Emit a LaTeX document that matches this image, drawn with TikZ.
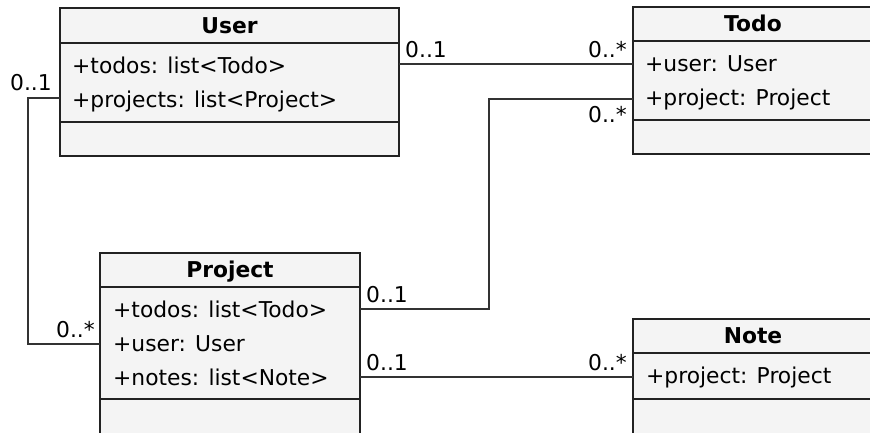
\documentclass[tikz,border=0pt]{standalone}
\usepackage{fontspec}
\setmainfont{DejaVu Sans}
\definecolor{boxfill}{HTML}{F4F4F4}
\definecolor{boxline}{HTML}{222222}
\definecolor{wire}{HTML}{333333}
\begin{document}
\begin{tikzpicture}[x=1pt,y=-1pt,
  every node/.style={font=\fontsize{21.8}{26}\selectfont},
  classbox/.style={draw=boxline, fill=boxfill, line width=1.7pt,
    inner sep=0pt, outer sep=0pt, anchor=north west},
  sepline/.style={draw=boxline, line width=1.7pt},
  classname/.style={font=\fontsize{21.8}{26}\selectfont\bfseries, anchor=base, inner sep=0pt},
  attr/.style={anchor=base west, inner sep=0pt},
  assoc/.style={draw=wire, line width=1.6pt},
  multl/.style={anchor=base west, inner sep=0pt},
  multr/.style={anchor=base east, inner sep=0pt}]
\clip (0,0) rectangle (870,432);

% ---------- User ----------
\node[classbox, minimum width=339pt, minimum height=148pt] (user) at (60,8) {};
\draw[sepline] (60,43) -- (399,43);
\draw[sepline] (60,122) -- (399,122);
\node[classname] (userT) at (229.5,33) {User};
\node[attr] (userA1) at (72,73) {+todos: list<Todo>};
\node[attr] (userA2) at (72,107) {+projects: list<Project>};

% ---------- Todo ----------
\node[classbox, minimum width=240pt, minimum height=147pt] (todo) at (633,7) {};
\draw[sepline] (633,41) -- (873,41);
\draw[sepline] (633,120) -- (873,120);
\node[classname] (todoT) at (753,31) {Todo};
\node[attr] (todoA1) at (645,71) {+user: User};
\node[attr] (todoA2) at (645,105) {+project: Project};

% ---------- Project ----------
\node[classbox, minimum width=260pt, minimum height=200pt] (project) at (100,253) {};
\draw[sepline] (100,287) -- (360,287);
\draw[sepline] (100,399) -- (360,399);
\node[classname] (projectT) at (230,277) {Project};
\node[attr] (projectA1) at (113,317) {+todos: list<Todo>};
\node[attr] (projectA2) at (113,351) {+user: User};
\node[attr] (projectA3) at (113,385) {+notes: list<Note>};

% ---------- Note ----------
\node[classbox, minimum width=240pt, minimum height=140pt] (note) at (633,319) {};
\draw[sepline] (633,353) -- (873,353);
\draw[sepline] (633,399) -- (873,399);
\node[classname] (noteT) at (753,343) {Note};
\node[attr] (noteA1) at (646,383) {+project: Project};

% ---------- Associations ----------
% User -- Todo
\draw[assoc] (user.east |- 0,64) -- (todo.west |- 0,64);
\node[multl] (m1) at (405,57) {0..1};
\node[multr] (m2) at (627,57) {0..*};

% Project -- Todo
\coordinate (bendA) at (489,309);
\draw[assoc] (project.east |- bendA) -- (bendA) -- (bendA |- 0,99) -- (todo.west |- 0,99);
\node[multl] (m3) at (366,302) {0..1};
\node[multr] (m4) at (627,122) {0..*};

% User -- Project
\coordinate (bendB) at (28,98);
\draw[assoc] (user.west |- bendB) -- (bendB) -- (bendB |- 0,344) -- (project.west |- 0,344);
\node[multr] (m5) at (52,90) {0..1};
\node[multr] (m6) at (95,337) {0..*};

% Project -- Note
\draw[assoc] (project.east |- 0,377) -- (note.west |- 0,377);
\node[multl] (m7) at (366,370) {0..1};
\node[multr] (m8) at (627,370) {0..*};
\end{tikzpicture}
\end{document}
